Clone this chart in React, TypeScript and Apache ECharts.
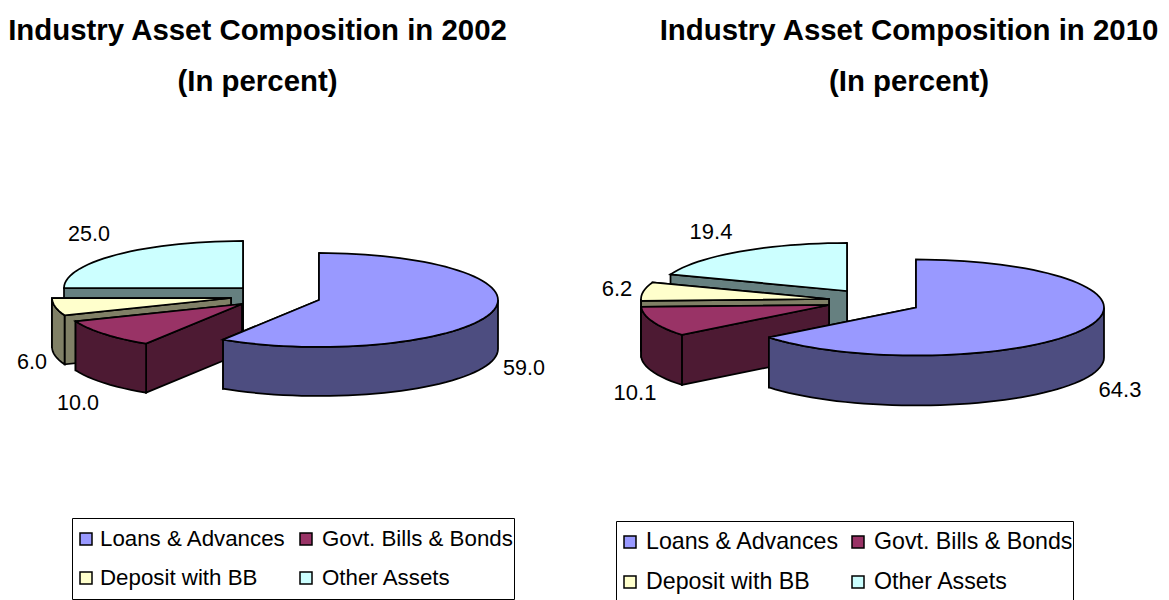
import React, { useEffect, useRef } from "react";
import * as echarts from "echarts";

const categories = ["Loans & Advances", "Govt. Bills & Bonds", "Deposit with BB", "Other Assets"];
const values2002 = [59.0, 10.0, 6.0, 25.0];
const values2010 = [64.3, 10.1, 6.2, 19.4];
const titles2002 = ["Industry Asset Composition in 2002", "(In percent)"];
const titles2010 = ["Industry Asset Composition in 2010", "(In percent)"];

const topColors = ["#9999FF", "#993366", "#FFFFCC", "#CCFFFF"];
const wallColors = ["#4D4D80", "#4D1A33", "#808066", "#668080"];
const FONT = '"Liberation Sans", Arial, sans-serif';

const layouts = [
  {
    values: values2002,
    rx: 179,
    ry: 47,
    depth: 49,
    labelSize: 21.5,
    centers: [[319, 300], [242, 304], [231, 298], [243, 288]],
    labels: [[524, 368], [78, 403], [32, 362], [89, 234]],
  },
  {
    values: values2010,
    rx: 188,
    ry: 48,
    depth: 50,
    labelSize: 22,
    centers: [[916, 307.5], [829, 305], [829, 299], [847, 291]],
    labels: [[1120, 389], [635, 392], [617, 288], [711, 231]],
  },
];

function arcPoints(c: number[], rx: number, ry: number, a0: number, a1: number, dy = 0) {
  const n = Math.max(2, Math.ceil((a1 - a0) / 3));
  const pts: number[][] = [];
  for (let i = 0; i <= n; i++) {
    const a = ((a0 + ((a1 - a0) * i) / n) * Math.PI) / 180;
    pts.push([c[0] + rx * Math.sin(a), c[1] - ry * Math.cos(a) + dy]);
  }
  return pts;
}

function makeSeries(layout: (typeof layouts)[number]) {
  const total = layout.values.reduce((s, v) => s + v, 0);
  let acc = 0;
  const rows = layout.values.map((v, i) => {
    const row = { name: categories[i], value: [v, (acc / total) * 360, ((acc + v) / total) * 360, i] };
    acc += v;
    return row;
  });
  return {
    type: "custom",
    coordinateSystem: "none",
    silent: true,
    data: rows.slice().reverse(),
    renderItem: (_p: any, api: any) => {
      const v = api.value(0);
      const a0 = api.value(1);
      const a1 = api.value(2);
      const i = api.value(3);
      const c = layout.centers[i];
      const { rx, ry, depth } = layout;
      const line = { stroke: "#000", lineWidth: 1.75, lineJoin: "miter" };
      const wall = { ...line, fill: wallColors[i] };
      const children: any[] = [];
      [a1, a0].forEach((a) => {
        const e = arcPoints(c, rx, ry, a, a)[0];
        children.push({
          type: "polygon",
          shape: { points: [c, e, [e[0], e[1] + depth], [c[0], c[1] + depth]] },
          style: wall,
        });
      });
      const f0 = Math.max(a0, 90);
      const f1 = Math.min(a1, 270);
      if (f1 > f0) {
        const upper = arcPoints(c, rx, ry, f0, f1);
        const lower = arcPoints(c, rx, ry, f0, f1, depth).reverse();
        children.push({ type: "polygon", shape: { points: [...upper, ...lower] }, style: wall });
      }
      children.push({
        type: "polygon",
        shape: { points: [c, ...arcPoints(c, rx, ry, a0, a1)] },
        style: { ...line, fill: topColors[i] },
      });
      children.push({
        type: "text",
        style: {
          text: v.toFixed(1),
          x: layout.labels[i][0],
          y: layout.labels[i][1],
          align: "center",
          verticalAlign: "middle",
          font: `${layout.labelSize}px ${FONT}`,
          fill: "#000",
        },
      });
      return { type: "group", children };
    },
  };
}

function titleTexts(lines: string[], cx: number, ys: number[]) {
  return lines.map((text, i) => ({
    type: "text",
    x: cx,
    y: ys[i],
    style: { text, align: "center", verticalAlign: "middle", font: `bold 29.4px ${FONT}`, fill: "#000" },
  }));
}

function legendBox(box: number[], colX: number[], rowY: number[], textX: number[], size: number) {
  const els: any[] = [
    {
      type: "rect",
      shape: { x: box[0], y: box[1], width: box[2], height: box[3] },
      style: { fill: "#fff", stroke: "#000", lineWidth: 1 },
    },
  ];
  categories.forEach((name, i) => {
    const x = colX[i % 2];
    const y = rowY[Math.floor(i / 2)];
    els.push({
      type: "rect",
      shape: { x, y: y - 6, width: 12, height: 12 },
      style: { fill: topColors[i], stroke: "#000", lineWidth: 1.5 },
    });
    els.push({
      type: "text",
      x: textX[i % 2],
      y: y - 1,
      style: { text: name, align: "left", verticalAlign: "middle", font: `${size}px ${FONT}`, fill: "#000" },
    });
  });
  return els;
}

export default function App() {
  const ref = useRef<HTMLDivElement>(null);
  useEffect(() => {
    const chart = echarts.init(ref.current!, null, { renderer: "svg" });
    chart.setOption({
      animation: false,
      backgroundColor: "#fff",
      series: layouts.map(makeSeries),
      graphic: [
        ...titleTexts(titles2002, 257.5, [29, 80]),
        ...titleTexts(titles2010, 909, [29, 80]),
        ...legendBox([72.5, 518.5, 442, 81], [80, 300], [539, 578], [100, 322], 22.3),
        ...legendBox([616.5, 521.5, 457, 82], [624, 852], [542, 582], [646, 874], 23.2),
      ],
    });
    return () => chart.dispose();
  }, []);
  return (
    <div
      ref={ref}
      style={{ position: "fixed", left: 0, top: 0, width: 1169, height: 600 }}
    />
  );
}
